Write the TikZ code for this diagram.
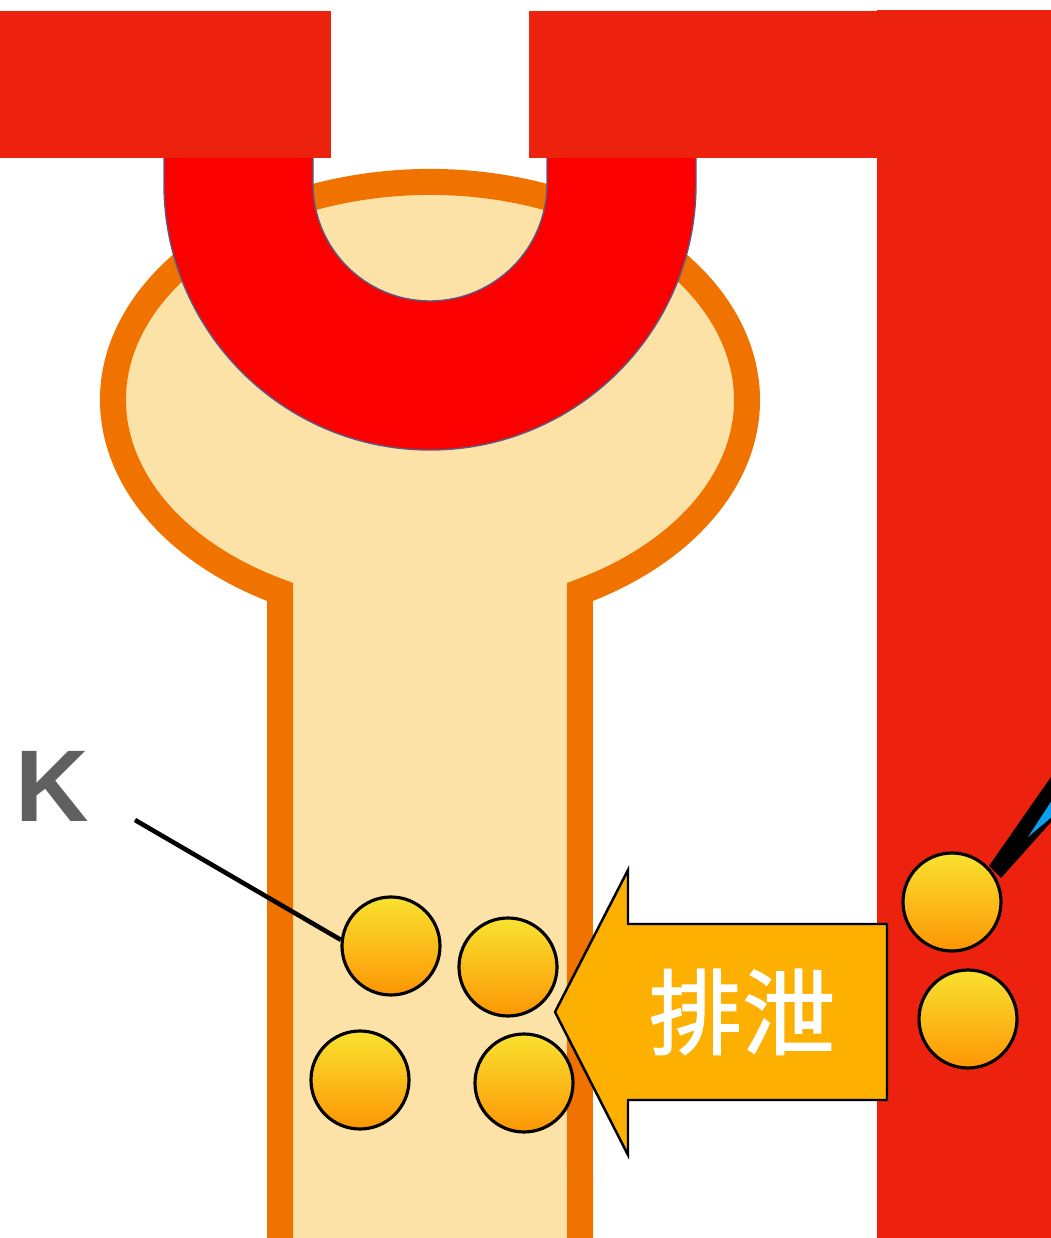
\documentclass[tikz,border=0pt]{standalone}
\usepackage{fontspec}
\setmainfont{Liberation Sans}
\newfontfamily\cjk{Noto Sans CJK JP}[FakeBold=1.3]

\definecolor{vessel}{RGB}{236,34,14}
\definecolor{loopred}{RGB}{252,0,0}
\definecolor{rim}{RGB}{90,90,130}
\definecolor{wall}{RGB}{240,115,0}
\definecolor{lumen}{RGB}{253,226,167}
\definecolor{ionTop}{RGB}{249,226,48}
\definecolor{ionBot}{RGB}{253,150,4}
\definecolor{flow}{RGB}{253,176,0}
\definecolor{pointerblue}{RGB}{10,160,240}
\definecolor{labelgray}{RGB}{96,96,96}

\begin{document}
\begin{tikzpicture}[
    ion/.style={circle, draw, line width=.9pt, minimum size=.98cm, inner sep=0pt,
                top color=ionTop, bottom color=ionBot},
    lead/.style={line width=1.3pt},
  ]
  \useasboundingbox (0,0) rectangle (10.51,12.38);
  \clip (0,0) rectangle (10.51,12.38);

  % tubule: bulb on top of the stem
  \draw[fill=lumen, draw=wall, line width=.26cm]
    (2.80,-0.5) -- (2.80,6.46)
    arc[start angle=241.76, end angle=-61.76, x radius=3.17, y radius=2.18]
    -- (5.80,-0.5);

  % capillary loop
  \filldraw[fill=loopred, draw=rim, line width=.4pt]
    (1.64,11.0) -- (1.64,10.54) arc[start angle=180, end angle=360, radius=2.66]
    -- (6.96,11.0) -- (5.47,11.0) -- (5.47,10.54)
    arc[start angle=0, end angle=-180, radius=1.17] -- (3.13,11.0) -- cycle;

  % vessels
  \fill[vessel] (0,10.80) rectangle (3.31,12.27);
  \fill[vessel] (5.29,10.80) rectangle (10.60,12.27);
  \fill[vessel] (8.77,-0.1) rectangle (10.60,12.28);

  % excretion arrow
  \draw[fill=flow, line width=.7pt]
    (5.55,2.26) -- (6.28,3.68) -- (6.28,3.14) -- (8.87,3.14)
    -- (8.87,1.38) -- (6.28,1.38) -- (6.28,0.83) -- cycle;
  \node[text=white, font=\cjk\fontsize{26.5}{26.5}\selectfont] (excr) at (7.42,2.26) {排泄};

  % pointer towards the vessel ion
  \fill[black] (9.89,3.72) -- (10.60,4.74) -- (10.60,4.26) -- (10.01,3.60) -- cycle;
  \fill[pointerblue] (10.28,4.01) -- (10.60,4.50) -- (10.60,4.28) -- cycle;

  % ions
  \node[ion] (k1) at (3.91,2.92) {};
  \node[ion] (k2) at (5.08,2.71) {};
  \node[ion] (k3) at (3.60,1.58) {};
  \node[ion] (k4) at (5.24,1.55) {};
  \node[ion] (k5) at (9.52,3.36) {};
  \node[ion] (k6) at (9.68,2.19) {};

  \node[text=labelgray, font=\bfseries\fontsize{29}{29}\selectfont] (klabel) at (0.52,4.52) {K};
  \coordinate (kend) at (1.35,4.18);
  \draw[lead] (kend) -- (k1.173);
\end{tikzpicture}
\end{document}
